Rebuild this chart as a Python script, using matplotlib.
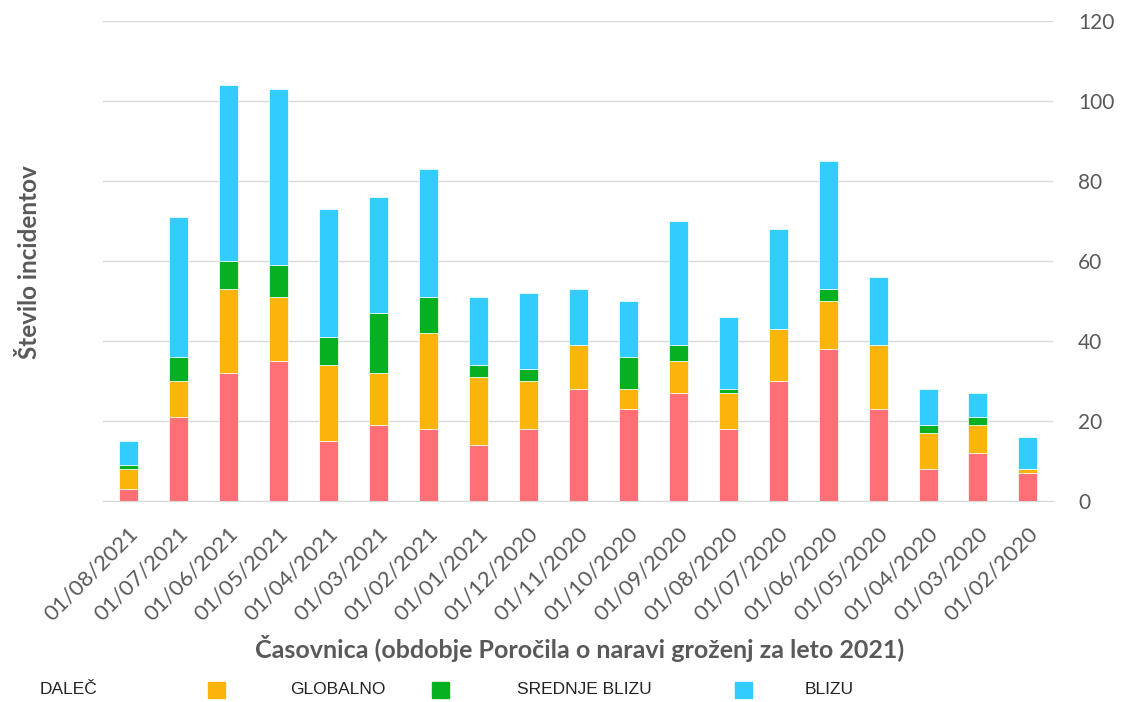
import matplotlib.pyplot as plt
import numpy as np
from matplotlib.patches import Rectangle

plt.rcParams['font.family'] = ['Lato', 'DejaVu Sans']

dates = ["01/08/2021", "01/07/2021", "01/06/2021", "01/05/2021", "01/04/2021",
         "01/03/2021", "01/02/2021", "01/01/2021", "01/12/2020", "01/11/2020",
         "01/10/2020", "01/09/2020", "01/08/2020", "01/07/2020", "01/06/2020",
         "01/05/2020", "01/04/2020", "01/03/2020", "01/02/2020"]
dalec = [3, 21, 32, 35, 15, 19, 18, 14, 18, 28, 23, 27, 18, 30, 38, 23, 8, 12, 7]
globalno = [5, 9, 21, 16, 19, 13, 24, 17, 12, 11, 5, 8, 9, 13, 12, 16, 9, 7, 1]
srednje = [1, 6, 7, 8, 7, 15, 9, 3, 3, 0, 8, 4, 1, 0, 3, 0, 2, 2, 0]
blizu = [6, 35, 44, 44, 32, 29, 32, 17, 19, 14, 14, 31, 18, 25, 32, 17, 9, 6, 8]

names = ["DALEČ", "GLOBALNO", "SREDNJE BLIZU", "BLIZU"]
colors = ["#FF6F75", "#FBB40A", "#06B021", "#33CCFF"]
grey = "#595959"

fig = plt.figure(figsize=(11.23, 7.02), dpi=100)
ax = fig.add_axes([103 / 1123, 1 - 501 / 702, 950 / 1123, 480 / 702])

x = np.arange(len(dates))
bottom = np.zeros(len(dates))
for vals, c in zip([dalec, globalno, srednje, blizu], colors):
    ax.bar(x, vals, width=0.38, bottom=bottom, color=c, edgecolor="white", linewidth=0.5, zorder=3)
    bottom += np.array(vals)

ax.set_xlim(-0.5, len(dates) - 0.5)
ax.set_ylim(0, 120)
ax.set_yticks(range(0, 121, 20))
ax.yaxis.tick_right()
ax.grid(axis="y", color="#d9d9d9", linewidth=1, zorder=0)
ax.tick_params(axis="y", length=0, pad=18, labelsize=15, labelcolor=grey)
ax.tick_params(axis="x", length=0, pad=16, labelsize=16, labelcolor=grey)
ax.set_xticks(x)
ax.set_xticklabels(dates, rotation=45, ha="right", rotation_mode="anchor")
for s in ["top", "left", "right"]:
    ax.spines[s].set_visible(False)
ax.spines["bottom"].set_color("#d9d9d9")

fig.text(30 / 1123, 1 - 262 / 702, "Število incidentov", rotation=90, ha="center", va="center",
         fontsize=17.5, fontweight="bold", color=grey)
fig.text(580 / 1123, 1 - 648 / 702, "Časovnica (obdobje Poročila o naravi groženj za leto 2021)",
         ha="center", va="center", fontsize=18, fontweight="bold", color=grey)

# legend as it appears in the original (labels shifted against markers)
label_x = [40, 290, 517, 805]
square_x = [None, 208, 432, 735]
ly = 1 - 690 / 702
for name, c, lx, sx in zip(names, colors, label_x, square_x):
    fig.text(lx / 1123, ly, name, ha="left", va="center", fontsize=12.5, color="#222222",
             family=["Liberation Sans", "DejaVu Sans"])
    if sx is not None:
        fig.patches.append(Rectangle((sx / 1123, ly - 8 / 702), 17 / 1123, 16 / 702,
                                     transform=fig.transFigure, color=colors[names.index(name)]))

fig.savefig("out.png", dpi=100)
